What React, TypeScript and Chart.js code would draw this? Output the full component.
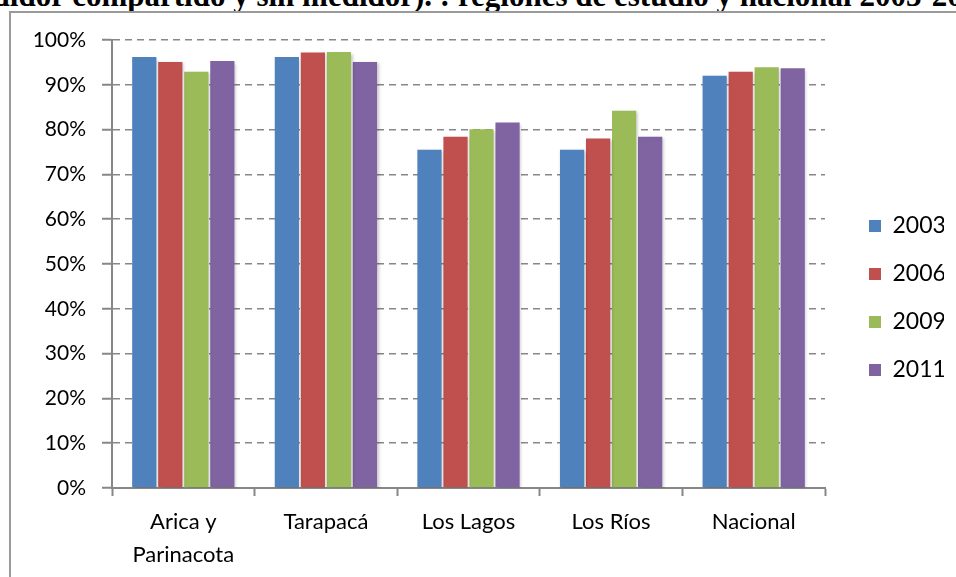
import React, { useEffect, useRef } from "react";
import { Chart, registerables } from "chart.js";

Chart.register(...registerables);

// ---- data ----
const categories: (string | string[])[] = [["Arica y", "Parinacota"], "Tarapacá", "Los Lagos", "Los Ríos", "Nacional"];
const seriesNames = ["2003", "2006", "2009", "2011"];
const values2003 = [96.2, 96.2, 75.5, 75.5, 92.0];
const values2006 = [95.1, 97.2, 78.4, 78.0, 92.9];
const values2009 = [92.9, 97.3, 80.1, 84.2, 93.9];
const values2011 = [95.3, 95.1, 81.6, 78.4, 93.7];
const seriesColors = ["#4F81BD", "#C0504D", "#9BBB59", "#8064A2"];
const yMin = 0;
const yMax = 100;
const yStep = 10;
const titleText = "medidor compartido y sin medidor). : regiones de estudio y nacional 2003-2011";

const GRID = "#878787";

const legendShift = {
  id: "legendShift",
  afterLayout(chart: any) {
    const l = chart.legend;
    if (!l) return;
    const dx = 19;
    const dy = -10.5;
    l.left += dx;
    l.right += dx;
    l.top += dy;
    l.bottom += dy;
  },
};

const barShadow = {
  id: "barShadow",
  beforeDatasetsDraw(chart: any) {
    const ctx = chart.ctx;
    ctx.save();
    ctx.shadowColor = "rgba(0,0,0,0.22)";
    ctx.shadowBlur = 3;
    ctx.shadowOffsetX = 1.5;
    ctx.shadowOffsetY = 1.5;
  },
  afterDatasetsDraw(chart: any) {
    chart.ctx.restore();
  },
};

export default function App() {
  const ref = useRef<HTMLCanvasElement | null>(null);

  useEffect(() => {
    if (!ref.current) return;
    const allValues = [values2003, values2006, values2009, values2011];
    const chart = new Chart(ref.current, {
      type: "bar",
      data: {
        labels: categories as any,
        datasets: seriesNames.map((name, i) => ({
          label: name,
          data: allValues[i],
          backgroundColor: seriesColors[i],
          borderWidth: 0,
          barPercentage: 0.93,
          categoryPercentage: 0.73,
        })),
      },
      options: {
        responsive: false,
        animation: false,
        devicePixelRatio: 1,
        layout: { padding: { top: 40, right: 31, bottom: 0, left: 0 } },
        plugins: {
          title: { display: false },
          tooltip: { enabled: false },
          legend: {
            display: true,
            position: "right",
            maxWidth: 100,
            labels: {
              boxWidth: 12,
              boxHeight: 12,
              padding: 25,
              color: "#000",
              font: { family: "Lato", size: 23 },
            },
          },
        },
        scales: {
          x: {
            afterFit: (s: any) => {
              s.height = 89;
            },
            grid: {
              display: true,
              drawOnChartArea: false,
              drawTicks: true,
              tickLength: 8,
              tickColor: GRID,
              tickWidth: 2,
              offset: true,
            },
            border: { display: true, color: GRID, width: 2 },
            ticks: {
              color: "#000",
              padding: 9,
              maxRotation: 0,
              autoSkip: false,
              font: { family: "Lato", size: 22, lineHeight: 1.5 },
            },
          },
          y: {
            min: yMin,
            max: yMax,
            afterFit: (s: any) => {
              s.width = 112;
            },
            grid: {
              color: GRID,
              lineWidth: 1.5,
              tickLength: 10,
              tickColor: GRID,
              tickWidth: 2,
              tickBorderDash: [],
            },
            border: { display: true, color: GRID, width: 2, dash: [7, 5] },
            ticks: {
              stepSize: yStep,
              color: "#000",
              padding: 16,
              font: { family: "Lato", size: 21 },
              callback: (v: any) => `${v}%`,
            },
          },
        },
      },
      plugins: [legendShift, barShadow],
    });
    return () => chart.destroy();
  }, []);

  return (
    <div
      style={{
        position: "fixed",
        left: 0,
        top: 0,
        width: 956,
        height: 577,
        overflow: "hidden",
        background: "#fff",
      }}
    >
      <div
        style={{
          position: "absolute",
          left: -47,
          top: -20,
          whiteSpace: "nowrap",
          fontFamily: "'Liberation Serif', 'Times New Roman', serif",
          fontWeight: "bold",
          fontSize: 31,
          lineHeight: "31px",
          color: "#000",
        }}
      >
        {titleText}
      </div>
      <div
        style={{
          position: "absolute",
          left: 9,
          top: 11,
          width: 1100,
          height: 800,
          border: "2px solid #9a9a9a",
        }}
      />
      <canvas
        ref={ref}
        width={956}
        height={577}
        style={{ position: "absolute", left: 0, top: 0, width: 956, height: 577 }}
      />
    </div>
  );
}
